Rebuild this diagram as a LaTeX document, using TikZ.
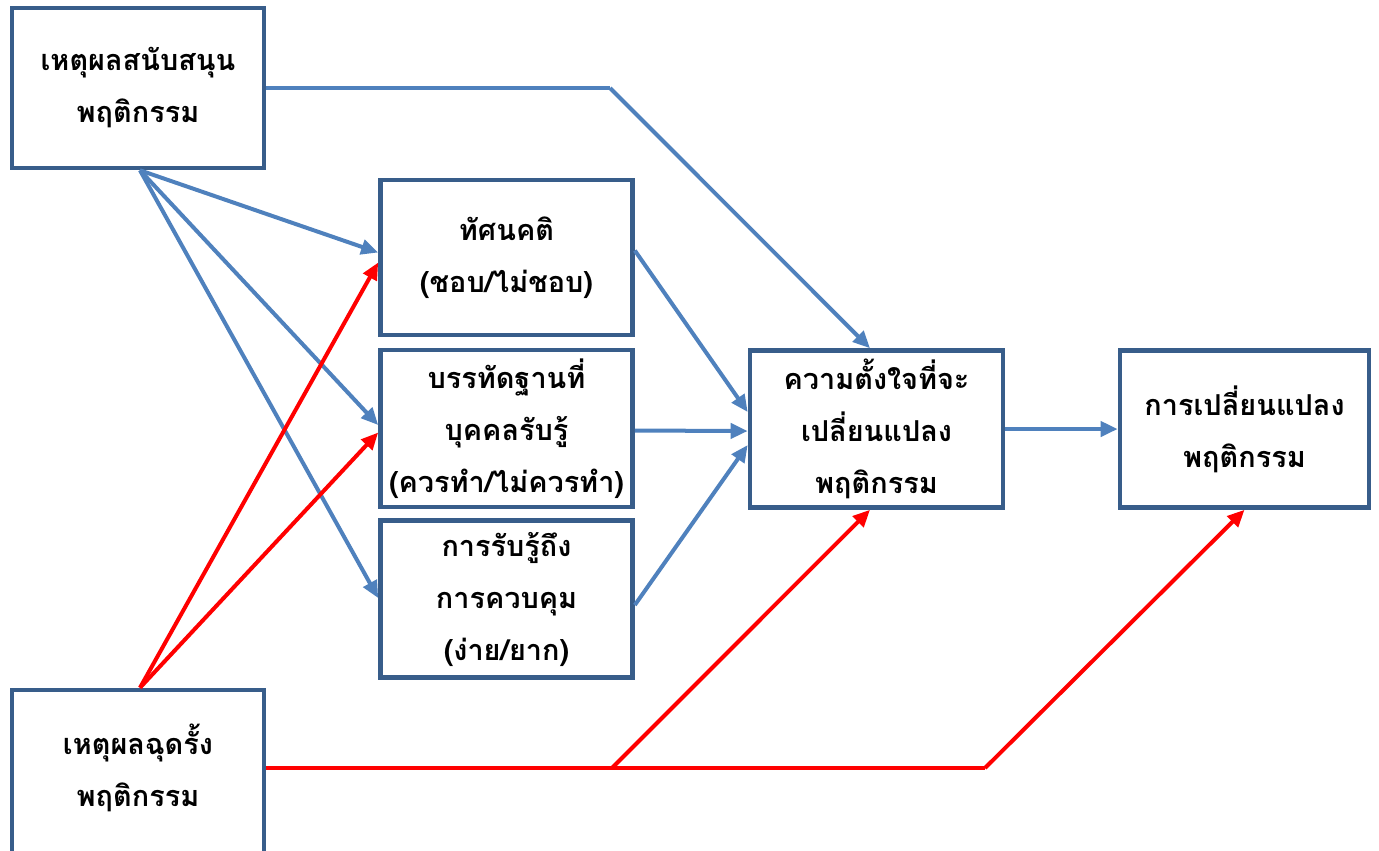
\documentclass[tikz,border=0pt]{standalone}
\usepackage{fontspec}
\newfontfamily\thaifont[Script=Thai]{Loma}
\usetikzlibrary{arrows.meta,calc}
\definecolor{boxline}{RGB}{56,93,138}
\definecolor{problue}{RGB}{79,129,189}
\definecolor{conred}{RGB}{255,0,0}
\newcommand{\boxfont}{\thaifont\bfseries\fontsize{8.2}{14.8}\selectfont}
\tikzset{
  box/.style={draw=boxline, line width=0.045cm, fill=white, align=center,
    minimum width=2.52cm, minimum height=1.57cm, inner sep=0pt,
    font=\boxfont},
  proarrow/.style={draw=problue, line width=0.04cm, -{Triangle[length=0.17cm,width=0.15cm]}},
  conarrow/.style={draw=conred, line width=0.04cm, -{Triangle[length=0.17cm,width=0.15cm]}},
  proseg/.style={draw=problue, line width=0.04cm},
  conseg/.style={draw=conred, line width=0.04cm}
}
\begin{document}
\begin{tikzpicture}[x=0.01cm,y=-0.01cm]
\useasboundingbox (0,0) rectangle (1379,850);
% boxes
\node[box, minimum height=1.6cm] (sup) at (138,88) {เหตุผลสนับสนุน\\พฤติกรรม};
\node[box, minimum height=1.55cm] (att) at (506.5,257.5) {ทัศนคติ\\(ชอบ/ไม่ชอบ)};
\node[box] (norm) at (506.5,428.5) {บรรทัดฐานที่\\บุคคลรับรู้\\(ควรทำ/ไม่ควรทำ)};
\node[box] (ctrl) at (506.5,599) {การรับรู้ถึง\\การควบคุม\\(ง่าย/ยาก)};
\node[box, minimum width=2.53cm] (int) at (876.5,429) {ความตั้งใจที่จะ\\เปลี่ยนแปลง\\พฤติกรรม};
\node[box, minimum width=2.49cm] (chg) at (1244.5,429) {การเปลี่ยนแปลง\\พฤติกรรม};
\node[box, minimum height=1.9cm] (inh) at (138,785) {};
\node[font=\boxfont, align=center] (inhtext) at (138,768) {เหตุผลฉุดรั้ง\\พฤติกรรม};
% joints of the bent connectors
\coordinate (topbend) at (610,88);
\coordinate (lowsplit) at (612,768);
\coordinate (lowbend) at (985,768);
% supporting reasons
\draw[proseg] (sup.east) -- (topbend);
\draw[proarrow] (topbend) -- ([xshift=-0.065cm]int.north);
\draw[proarrow] ([xshift=0.02cm]sup.south) -- ([yshift=0.05cm]att.west);
\draw[proarrow] ([xshift=0.02cm]sup.south) -- ([yshift=0.035cm]norm.west);
\draw[proarrow] ([xshift=0.02cm]sup.south) -- ([yshift=0.01cm]ctrl.west);
% inhibiting reasons
\draw[conarrow] ([xshift=0.02cm]inh.north) -- ([yshift=-0.05cm]att.west);
\draw[conarrow] ([xshift=0.02cm]inh.north) -- ([yshift=-0.04cm]norm.west);
\draw[conseg] (inh.east |- lowsplit) -- (lowsplit);
\draw[conarrow] (lowsplit) -- ([xshift=-0.065cm]int.south);
\draw[conseg] (lowsplit) -- (lowbend);
\draw[conarrow] (lowbend) -- (chg.south);
% determinants to intention
\draw[proarrow] ([yshift=0.07cm]att.east) -- ([yshift=0.17cm]int.west);
\draw[proarrow] ([yshift=-0.02cm]norm.east) -- ([yshift=-0.02cm]int.west);
\draw[proarrow] ([yshift=-0.06cm]ctrl.east) -- ([yshift=-0.16cm]int.west);
% intention to behaviour change
\draw[proarrow] (int.east) -- (chg.west);
\end{tikzpicture}
\end{document}
